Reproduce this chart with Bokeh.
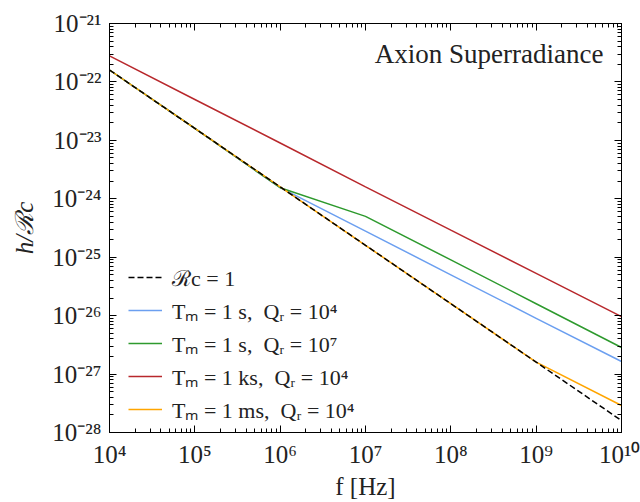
from bokeh.plotting import figure
from bokeh.models import LogAxis, FixedTicker, Label, Legend, LegendItem, Range1d
from bokeh.embed import file_html
from bokeh.resources import INLINE

# ---------------- data ----------------
freq = [1e4, 1e5, 1e6, 1e7, 1e8, 1e9, 1e10]
h_rc1 = [1.6e-22, 1.6e-23, 1.6e-24, 1.6e-25, 1.6e-26, 1.6e-27, 1.6e-28]
h_1s_q4 = [1.6e-22, 1.6e-23, 1.55e-24, 2.8e-25, 5.0e-26, 9.0e-27, 1.64e-27]
h_1s_q7 = [1.6e-22, 1.6e-23, 1.55e-24, 5.0e-25, 9.0e-26, 1.6e-26, 2.85e-27]
h_1ks_q4 = [2.8e-22, 5.0e-23, 9.0e-24, 1.6e-24, 2.9e-25, 5.3e-26, 9.6e-27]
h_1ms_q4 = [1.6e-22, 1.6e-23, 1.6e-24, 1.6e-25, 1.6e-26, 1.6e-27, 2.9e-28]

x_ticks = [1e4, 1e5, 1e6, 1e7, 1e8, 1e9, 1e10]
x_tick_labels = ["10⁴", "10⁵", "10⁶", "10⁷", "10⁸", "10⁹", "10¹⁰"]
y_ticks = [1e-28, 1e-27, 1e-26, 1e-25, 1e-24, 1e-23, 1e-22, 1e-21]
y_tick_labels = ["10⁻²⁸", "10⁻²⁷", "10⁻²⁶", "10⁻²⁵", "10⁻²⁴", "10⁻²³", "10⁻²²", "10⁻²¹"]

labels = ["ℛc = 1",
          "Tₘ = 1 s,  Qᵣ = 10⁴",
          "Tₘ = 1 s,  Qᵣ = 10⁷",
          "Tₘ = 1 ks,  Qᵣ = 10⁴",
          "Tₘ = 1 ms,  Qᵣ = 10⁴"]

FONT = "Liberation Serif"
TXT = "#222222"

x_minor = [m * 10 ** e for e in range(4, 10) for m in range(2, 10)]
y_minor = [m * 10 ** e for e in range(-28, -21) for m in range(2, 10)]

p = figure(width=640, height=502, x_axis_type="log", y_axis_type="log",
           x_range=Range1d(1e4, 1e10), y_range=Range1d(1e-28, 1e-21),
           output_backend="svg", toolbar_location=None,
           min_border_left=109, min_border_right=19,
           min_border_top=23, min_border_bottom=61)
p.grid.visible = False
p.outline_line_color = "black"
p.outline_line_width = 1
p.background_fill_color = "white"
p.border_fill_color = "white"

xt = FixedTicker(ticks=x_ticks, minor_ticks=x_minor)
yt = FixedTicker(ticks=y_ticks, minor_ticks=y_minor)

def style_axis(ax, ticker, show_labels):
    ax.ticker = ticker
    ax.major_tick_in = 7
    ax.major_tick_out = 0
    ax.minor_tick_in = 4
    ax.minor_tick_out = 0
    ax.axis_line_color = "black"
    ax.major_tick_line_color = "black"
    ax.minor_tick_line_color = "black"
    ax.major_label_text_font = FONT
    ax.major_label_text_color = TXT
    ax.axis_label_text_font = FONT
    ax.axis_label_text_color = TXT
    if show_labels:
        ax.major_label_text_font_size = "25px"
        ax.major_label_standoff = 8
    else:
        ax.major_label_text_font_size = "0px"
        ax.major_label_standoff = 0
        ax.major_label_text_alpha = 0

xa = p.xaxis[0]
ya = p.yaxis[0]
style_axis(xa, xt, True)
style_axis(ya, yt, True)
xa.major_label_overrides = dict(zip(x_ticks, x_tick_labels))
ya.major_label_overrides = dict(zip(y_ticks, y_tick_labels))

xa.axis_label = "f [Hz]"
xa.axis_label_text_font_size = "25px"
xa.axis_label_text_font_style = "normal"
xa.axis_label_standoff = 2
ya.axis_label = "h/ℛc"
ya.axis_label_text_font_size = "25px"
ya.axis_label_text_font_style = "italic"
ya.axis_label_standoff = 11

top = LogAxis()
right = LogAxis()
style_axis(top, xt, False)
style_axis(right, yt, False)
p.add_layout(top, "above")
p.add_layout(right, "right")

lw = 1.5
r_blue = p.line(freq, h_1s_q4, line_color="#6b9ff0", line_width=lw)
r_green = p.line(freq, h_1s_q7, line_color="#2e9a2e", line_width=lw)
r_red = p.line(freq, h_1ks_q4, line_color="#b8282c", line_width=lw)
r_orange = p.line(freq, h_1ms_q4, line_color="#ffa500", line_width=lw)
r_black = p.line(freq, h_rc1, line_color="black", line_width=lw, line_dash="6 3")

legend = Legend(items=[LegendItem(label=labels[0], renderers=[r_black]),
                       LegendItem(label=labels[1], renderers=[r_blue]),
                       LegendItem(label=labels[2], renderers=[r_green]),
                       LegendItem(label=labels[3], renderers=[r_red]),
                       LegendItem(label=labels[4], renderers=[r_orange])],
                location=(14, 3), glyph_width=34, glyph_height=30,
                label_height=30, label_standoff=10, spacing=3, padding=5,
                margin=0, border_line_alpha=0, background_fill_alpha=0,
                label_text_font=FONT, label_text_font_size="22px",
                label_text_color=TXT)
p.add_layout(legend)

# helper mapping reference pixel positions to data coordinates for the title text
def xpos(px):
    return 10 ** (4 + (px - 109) / 85.33)

def ypos(py):
    return 10 ** (-21 - (py - 23) / 59.75)

p.add_layout(Label(x=xpos(603), y=ypos(54), text="Axion Superradiance",
                   text_align="right", text_baseline="middle",
                   text_font=FONT, text_font_size="27px", text_color=TXT))

open("out.html", "w").write(file_html(p, INLINE))
